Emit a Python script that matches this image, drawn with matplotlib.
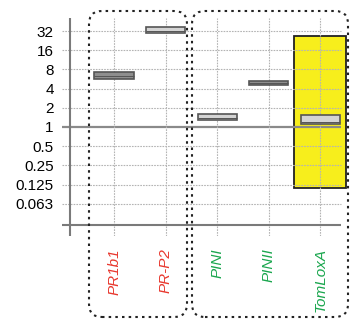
import matplotlib.pyplot as plt
from matplotlib.patches import FancyBboxPatch

# data (fold change, log2 axis)
genes = ['PR1b1', 'PR-P2', 'PINI', 'PINII', 'TomLoxA']
label_colors = ['#e8382e', '#e8382e', '#1aa64e', '#1aa64e', '#1aa64e']
q1 = [5.7, 30.0, 1.28, 4.55, 1.11]
med = [6.4, 32.0, 1.4, 4.9, 1.2]
q3 = [7.2, 37.0, 1.6, 5.3, 1.55]
box_fill = ['#8e8e8e', '#d4d4d4', '#d4d4d4', '#8e8e8e', '#d4d4d4']
# wide yellow range bar for TomLoxA
range_low = 0.11
range_high = 26.7
yticks = [32, 16, 8, 4, 2, 1, 0.5, 0.25, 0.125, 0.063]
ytick_labels = ['32', '16', '8', '4', '2', '1', '0.5', '0.25', '0.125', '0.063']

plt.rcParams['font.family'] = ['Liberation Sans', 'DejaVu Sans']

fig = plt.figure(figsize=(3.5, 3.21), dpi=100)
ax = fig.add_axes([62/350, 1 - 236/321, 286/350, 218/321])
ax.set_yscale('log', base=2)
ax.set_ylim(2**-5.68, 2**5.68)
ax.set_xlim(-1.01, 4.54)
for s in ax.spines.values():
    s.set_visible(False)

# grid
for v in yticks:
    if v == 1:
        ax.hlines(v, -1.01, 4.4, color='#8a8a8a', lw=1.6, zorder=2)
    else:
        ax.hlines(v, -1.01, 4.4, color='#b4b4b4', lw=0.8, ls=(0, (1.5, 1)), zorder=2)
ax.vlines(range(len(genes)), 2**-5.68, 2**5.68, color='#b4b4b4', lw=0.8, ls=(0, (1.5, 1)), zorder=2)
ax.vlines(-0.85, 2**-5.68, 2**5.68, color='#7a7a7a', lw=1.5, zorder=2)
ax.hlines(2**-5.1, -1.01, 4.4, color='#7a7a7a', lw=1.5, zorder=2)

# TomLoxA range bar
ax.bar(4, range_high - range_low, bottom=range_low, width=1.0,
       color='#f7ee1c', edgecolor='#222222', lw=1.3, zorder=1)

# boxes
for i in range(len(genes)):
    ax.bar(i, q3[i] - q1[i], bottom=q1[i], width=0.76, color=box_fill[i],
           edgecolor='#555555', lw=1.2, zorder=3)
    ax.hlines(med[i], i - 0.38, i + 0.38, color='#555555', lw=0.7, zorder=4)

ax.set_yticks(yticks)
ax.set_yticklabels(ytick_labels, fontsize=11)
ax.minorticks_off()
ax.set_xticks(range(len(genes)))
ax.set_xticklabels(genes, rotation=90, fontsize=11, fontstyle='italic', va='top')
for t, c in zip(ax.get_xticklabels(), label_colors):
    t.set_color(c)
ax.tick_params(axis='both', length=0)
ax.tick_params(axis='x', pad=9)
ax.tick_params(axis='y', pad=6)

# dotted rounded group frames (pixel coords -> inches)
for x0, x1 in [(89, 187), (192, 348)]:
    y0, y1 = 11, 317
    p = FancyBboxPatch((x0/100, (321 - y1)/100), (x1 - x0)/100, (y1 - y0)/100,
                       boxstyle='round,pad=0,rounding_size=0.13',
                       transform=fig.dpi_scale_trans, fill=False,
                       edgecolor='#222222', lw=1.5, ls=(0, (1.2, 2)))
    fig.patches.append(p)

fig.savefig('out.png', dpi=100)
